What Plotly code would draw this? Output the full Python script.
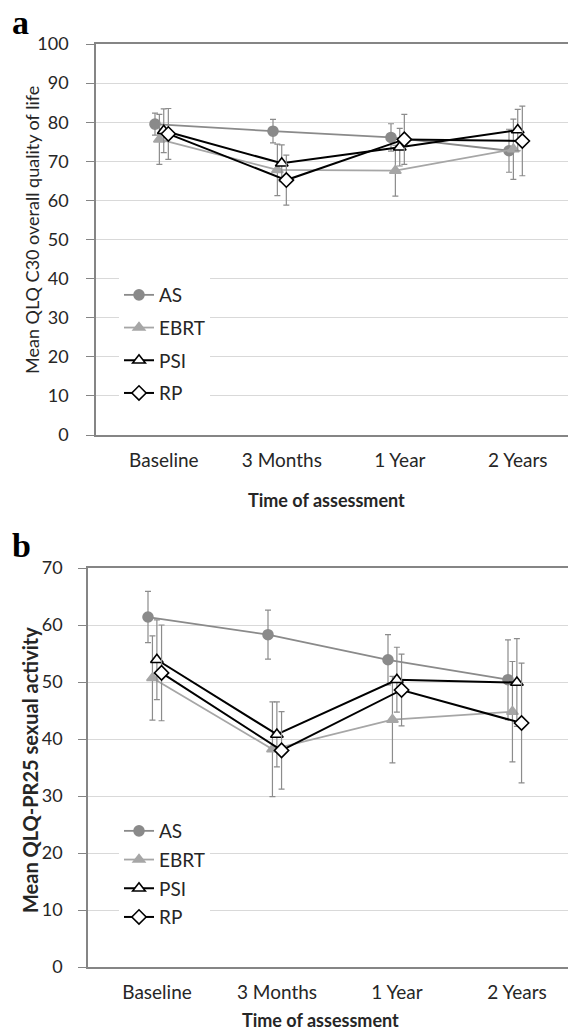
import plotly.graph_objects as go

# ---------------- data ----------------
categories = ["Baseline", "3 Months", "1 Year", "2 Years"]
series_names = ["AS", "EBRT", "PSI", "RP"]

# Panel a: Mean QLQ C30 overall quality of life
qlq_as = [79.5, 77.7, 76.1, 72.7]
qlq_as_err = [2.8, 3.0, 3.5, 5.5]
qlq_ebrt = [75.6, 67.8, 67.6, 73.1]
qlq_ebrt_err = [6.4, 6.6, 6.5, 7.7]
qlq_psi = [77.8, 69.5, 73.6, 78.0]
qlq_psi_err = [5.6, 4.7, 4.8, 5.3]
qlq_rp = [77.0, 65.2, 75.6, 75.2]
qlq_rp_err = [6.5, 6.4, 6.4, 8.9]

# Panel b: Mean QLQ-PR25 sexual activity
sex_as = [61.4, 58.3, 53.9, 50.4]
sex_as_err = [4.5, 4.3, 4.4, 7.0]
sex_ebrt = [50.7, 38.2, 43.4, 44.8]
sex_ebrt_err = [7.4, 8.3, 7.6, 8.8]
sex_psi = [53.9, 40.8, 50.4, 49.9]
sex_psi_err = [7.0, 5.7, 5.7, 7.7]
sex_rp = [51.6, 38.0, 48.6, 42.8]
sex_rp_err = [8.4, 6.8, 6.3, 10.5]

panel_a_vals = [qlq_as, qlq_ebrt, qlq_psi, qlq_rp]
panel_a_errs = [qlq_as_err, qlq_ebrt_err, qlq_psi_err, qlq_rp_err]
panel_b_vals = [sex_as, sex_ebrt, sex_psi, sex_rp]
panel_b_errs = [sex_as_err, sex_ebrt_err, sex_psi_err, sex_rp_err]

# ---------------- styles ----------------
W, H = 568, 1031
FONT = "Lato"
TXT = "#262626"
AXIS = "#858585"
GRID = "#d9d9d9"
ERR = "#8c8c8c"

styles = {
    "AS":   dict(line="#8a8a8a", symbol="circle", fill="#8a8a8a", mline="#8a8a8a", size=10, lw=1.8, dodge=0.0),
    "EBRT": dict(line="#a6a6a6", symbol="triangle-up", fill="#a6a6a6", mline="#a6a6a6", size=10, lw=1.8, dodge=0.037),
    "PSI":  dict(line="#000000", symbol="triangle-up", fill="#ffffff", mline="#000000", size=11, lw=2.0, dodge=0.074),
    "RP":   dict(line="#000000", symbol="diamond", fill="#ffffff", mline="#000000", size=11, lw=2.0, dodge=0.113),
}
LABEL_SHIFT = 0.075

fig = go.Figure()

def add_panel(vals_list, errs_list, xa, ya, legend):
    for name, vals, errs in zip(series_names, vals_list, errs_list):
        st = styles[name]
        xs = [i + st["dodge"] for i in range(len(categories))]
        fig.add_trace(go.Scatter(
            x=xs, y=vals, name=name, mode="lines+markers",
            xaxis=xa, yaxis=ya, legend=legend, legendgroup=legend + name,
            line=dict(color=st["line"], width=st["lw"]),
            marker=dict(symbol=st["symbol"], size=st["size"], color=st["fill"],
                        line=dict(color=st["mline"], width=1.6)),
            error_y=dict(type="data", array=errs, visible=True, color=ERR,
                         thickness=1.2, width=3),
        ))

add_panel(panel_a_vals, panel_a_errs, "x", "y", "legend")
add_panel(panel_b_vals, panel_b_errs, "x2", "y2", "legend2")

def px_x(p):
    return p / W

def px_y(p):
    return 1 - p / H

xcommon = dict(range=[-0.5, 3.5], tickmode="array",
               tickvals=[i + LABEL_SHIFT for i in range(len(categories))],
               ticktext=categories, showgrid=False, zeroline=False,
               showline=True, linecolor=AXIS, linewidth=1.5, mirror=True,
               ticks="", ticklabelstandoff=7, automargin=False,
               tickfont=dict(family=FONT, size=19, color=TXT))
ycommon = dict(dtick=10, showgrid=True, gridcolor=GRID, gridwidth=1, zeroline=False,
               showline=True, linecolor=AXIS, linewidth=1.5, ticks="outside",
               ticklen=8, tickcolor=AXIS, tickwidth=1.2, automargin=False,
               tickfont=dict(family=FONT, size=18, color=TXT))

fig.update_layout(
    width=W, height=H, margin=dict(l=0, r=0, t=0, b=0, autoexpand=False),
    paper_bgcolor="white", plot_bgcolor="white",
    xaxis=dict(domain=[px_x(96), 1.0], anchor="y", **xcommon),
    yaxis=dict(domain=[px_y(435), px_y(44)], range=[0, 100], anchor="x",
               ticklabelstandoff=14, **ycommon),
    xaxis2=dict(domain=[px_x(88), 1.0], anchor="y2", **xcommon),
    yaxis2=dict(domain=[px_y(967), px_y(568)], range=[0, 70], anchor="x2",
                ticklabelstandoff=12, **ycommon),
    legend=dict(x=px_x(119), y=px_y(276), xanchor="left", yanchor="top",
                bgcolor="white", font=dict(family=FONT, size=19, color=TXT),
                tracegroupgap=5, itemwidth=30),
    legend2=dict(x=px_x(119), y=px_y(812), xanchor="left", yanchor="top",
                 bgcolor="white", font=dict(family=FONT, size=19, color=TXT),
                 tracegroupgap=1, itemwidth=30),
    showlegend=True,
)

annotations = [
    dict(text="<b>a</b>", x=px_x(10), y=px_y(22), xanchor="left", yanchor="middle",
         font=dict(family="Liberation Serif", size=34, color="#000")),
    dict(text="<b>b</b>", x=px_x(10), y=px_y(545), xanchor="left", yanchor="middle",
         font=dict(family="Liberation Serif", size=34, color="#000")),
    dict(text="<b>Time of assessment</b>", x=px_x(326), y=px_y(500),
         xanchor="center", yanchor="middle",
         font=dict(family=FONT, size=18, color=TXT)),
    dict(text="<b>Time of assessment</b>", x=px_x(320), y=px_y(1020),
         xanchor="center", yanchor="middle",
         font=dict(family=FONT, size=18, color=TXT)),
    dict(text="Mean QLQ C30 overall quality of life", x=px_x(32), y=px_y(230),
         xanchor="center", yanchor="middle", textangle=-90,
         font=dict(family=FONT, size=18, color=TXT)),
    dict(text="<b>Mean QLQ-PR25 sexual activity</b>", x=px_x(30), y=px_y(770),
         xanchor="center", yanchor="middle", textangle=-90,
         font=dict(family=FONT, size=20, color=TXT)),
]
for a in annotations:
    a.update(xref="paper", yref="paper", showarrow=False)
fig.update_layout(annotations=annotations)

fig.write_html("out.html", config={"displayModeBar": False},
               post_script="document.body.style.margin='0px';document.body.style.overflow='hidden';")
